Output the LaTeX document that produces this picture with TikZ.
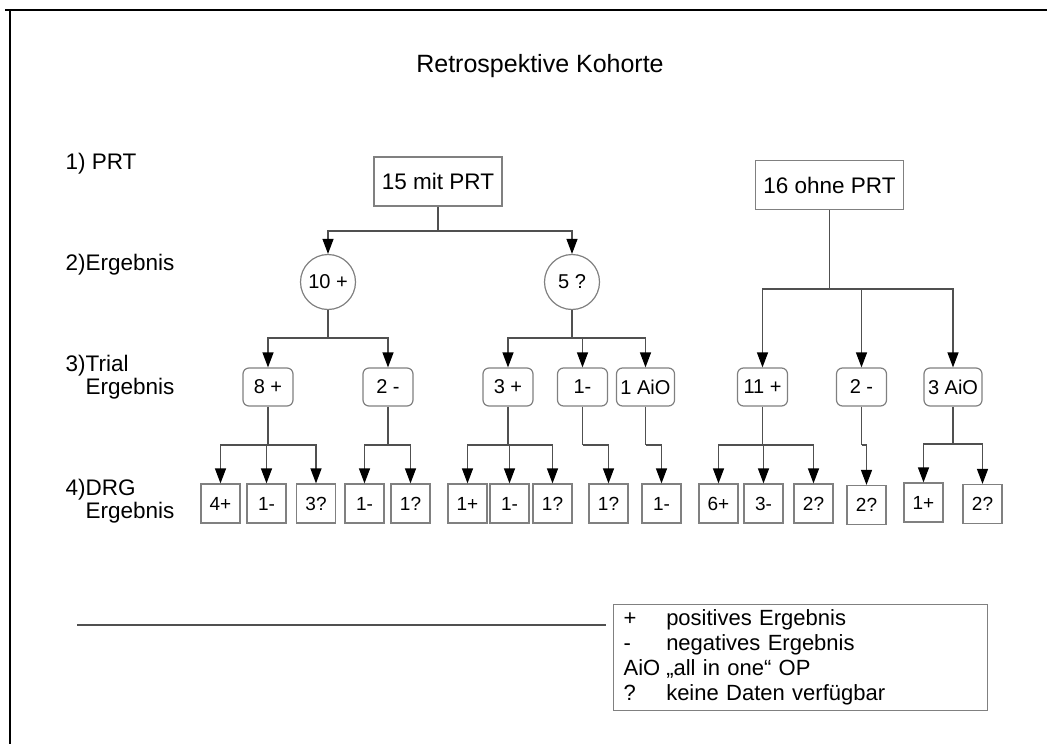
\documentclass[tikz,border=0pt]{standalone}
\usepackage{fontspec}
\setmainfont{Liberation Sans}
\usepackage{xcolor}
\usetikzlibrary{arrows.meta}

\definecolor{boxgray}{HTML}{808080}
\definecolor{linegray}{HTML}{505050}

\begin{document}
\begin{tikzpicture}[x=1pt, y=-1pt, line width=1.2pt,
  lbl/.style={anchor=west, inner sep=0pt, font=\fontsize{22.5}{23}\selectfont},
  groupbox/.style={draw=boxgray, minimum height=49pt, inner xsep=8pt, font=\fontsize{22.5}{26}\selectfont},
  result/.style={draw=boxgray, circle, minimum size=55pt, inner sep=0pt, font=\fontsize{20}{24}\selectfont},
  trial/.style={draw=boxgray, rounded corners=6pt, minimum width=50pt, minimum height=38pt, inner xsep=4pt, font=\fontsize{20}{22}\selectfont},
  drg/.style={draw=boxgray, minimum size=39pt, inner sep=0pt, font=\fontsize{19}{21}\selectfont},
  link/.style={draw=linegray},
  arr/.style={link, -{Triangle[width=11pt, length=15pt, color=black]}},
]
  \useasboundingbox (0,0) rectangle (1047,744);

  % Frame lines
  \draw[black, line width=2.2pt] (5,10) -- (1047,10);
  \draw[black, line width=2.2pt] (10,10) -- (10,744);

  \node[font=\fontsize{25}{28}\selectfont] (title) at (540,66) {Retrospektive Kohorte};

  % Row labels
  \node[lbl] (l1) at (65,164) {1) PRT};
  \node[lbl] (l2) at (65,265) {2)Ergebnis};
  \node[lbl] (l3) at (65,378) {\begin{tabular}{@{}l@{}l@{}}3)&Trial\\&Ergebnis\end{tabular}};
  \node[lbl] (l4) at (65,502) {\begin{tabular}{@{}l@{}l@{}}4)&DRG\\&Ergebnis\end{tabular}};

  % 1) PRT
  \node[groupbox] (g15) at (438,181.5) {15 mit PRT};
  \node[groupbox] (g16) at (829.5,185) {16 ohne PRT};

  % 2) Ergebnis
  \node[result] (r10) at (328,282) {10 +};
  \node[result] (r5) at (572,282) {5 ?};

  % 3) Trial Ergebnis
  \node[trial] (t8) at (268,387) {8 +};
  \node[trial] (t2a) at (388,387) {2 -};
  \node[trial] (t3) at (508,387) {3 +};
  \node[trial] (t1) at (582.5,387) {1-};
  \node[trial] (t1aio) at (645.5,387) {1 AiO};
  \node[trial] (t11) at (762.5,387) {11 +};
  \node[trial] (t2b) at (861.5,387) {2 -};
  \node[trial] (t3aio) at (953,387) {3 AiO};

  % 4) DRG Ergebnis
  \node[drg] (d4p) at (220.5,503.5) {4+};
  \node[drg] (d1ma) at (266.5,503.5) {1-};
  \node[drg] (d3q) at (316,503.5) {3?};
  \node[drg] (d1mb) at (364.5,503.5) {1-};
  \node[drg] (d1qa) at (410.5,503.5) {1?};
  \node[drg] (d1pa) at (467.5,503.5) {1+};
  \node[drg] (d1mc) at (509.5,503.5) {1-};
  \node[drg] (d1qb) at (552.5,503.5) {1?};
  \node[drg] (d1qc) at (608.5,503.5) {1?};
  \node[drg] (d1md) at (661.5,503.5) {1-};
  \node[drg] (d6p) at (718.5,503.5) {6+};
  \node[drg] (d3m) at (763.5,503.5) {3-};
  \node[drg] (d2qa) at (813.5,503.5) {2?};
  \node[drg] (d2qb) at (866.5,505) {2?};
  \node[drg] (d1pb) at (923.5,502.5) {1+};
  \node[drg] (d2qc) at (982.5,504) {2?};

  % Junctions
  \coordinate (j15) at (438,231);
  \coordinate (j16) at (829.5,289);
  \coordinate (j10) at (328,338);
  \coordinate (j5) at (572,338);
  \coordinate (j8) at (268,445);
  \coordinate (j2a) at (388,445);
  \coordinate (j3) at (508,445);
  \coordinate (j1) at (582.5,445);
  \coordinate (j1aio) at (645.5,445);
  \coordinate (j11) at (762.5,445);
  \coordinate (j2b) at (861.5,445);
  \coordinate (j3aio) at (953,444);

  % Connectors
  \draw[link] (g15) -- (j15);
  \draw[arr] (j15) -| (r10);
  \draw[arr] (j15) -| (r5);
  \draw[link] (g16) -- (j16);
  \draw[arr] (j16) -| (t11);
  \draw[arr] (j16) -| (t2b);
  \draw[arr] (j16) -| (t3aio);
  \draw[link] (r10) -- (j10);
  \draw[arr] (j10) -| (t8);
  \draw[arr] (j10) -| (t2a);
  \draw[link] (r5) -- (j5);
  \draw[arr] (j5) -| (t3);
  \draw[arr] (j5) -| (t1);
  \draw[arr] (j5) -| (t1aio);
  \draw[link] (t8) -- (j8);
  \draw[arr] (j8) -| (d4p);
  \draw[arr] (j8) -| (d1ma);
  \draw[arr] (j8) -| (d3q);
  \draw[link] (t2a) -- (j2a);
  \draw[arr] (j2a) -| (d1mb);
  \draw[arr] (j2a) -| (d1qa);
  \draw[link] (t3) -- (j3);
  \draw[arr] (j3) -| (d1pa);
  \draw[arr] (j3) -| (d1mc);
  \draw[arr] (j3) -| (d1qb);
  \draw[link] (t1) -- (j1);
  \draw[arr] (j1) -| (d1qc);
  \draw[link] (t1aio) -- (j1aio);
  \draw[arr] (j1aio) -| (d1md);
  \draw[link] (t11) -- (j11);
  \draw[arr] (j11) -| (d6p);
  \draw[arr] (j11) -| (d3m);
  \draw[arr] (j11) -| (d2qa);
  \draw[link] (t2b) -- (j2b);
  \draw[arr] (j2b) -| (d2qb);
  \draw[link] (t3aio) -- (j3aio);
  \draw[arr] (j3aio) -| (d1pb);
  \draw[arr] (j3aio) -| (d2qc);

  % Legend
  \draw[linegray] (77,625) -- (606,625);
  \node[draw=boxgray, anchor=north west, inner xsep=10pt, inner ysep=3pt, text width=354pt, align=left,
    font=\fontsize{22}{25}\selectfont] (legend) at (613,604)
    {\begin{tabular}{@{}l@{\hspace{6pt}}l@{}}
      + & positives Ergebnis\\
      - & negatives Ergebnis\\
      AiO & „all in one“ OP\\
      ? & keine Daten verfügbar
    \end{tabular}};
\end{tikzpicture}
\end{document}
